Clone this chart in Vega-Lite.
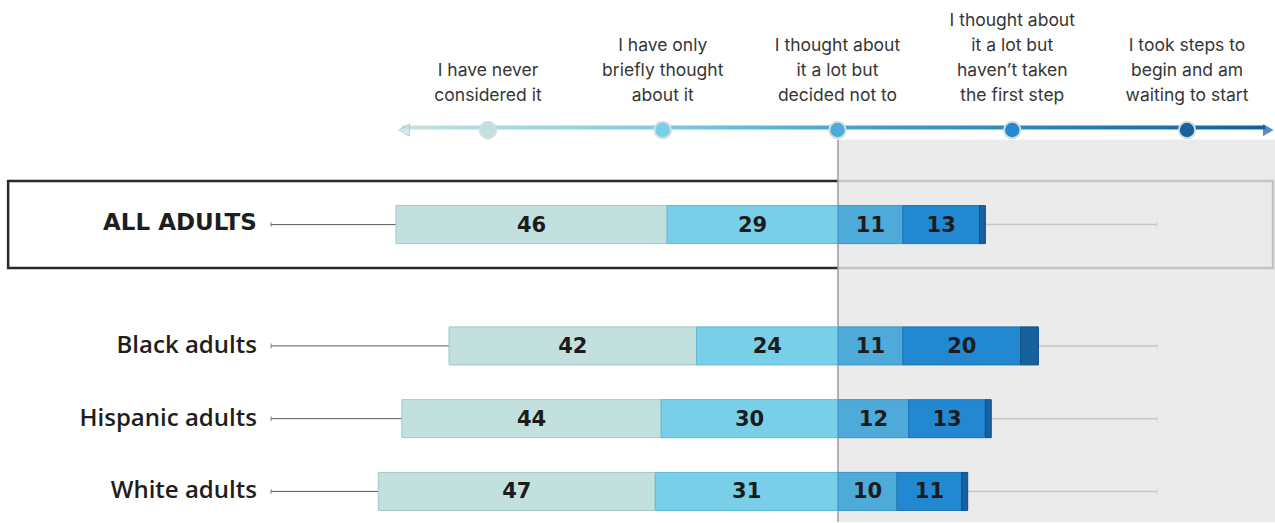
{
  "$schema": "https://vega.github.io/schema/vega-lite/v6.json",
  "width": 1275,
  "height": 523,
  "autosize": {"type": "fit", "contains": "padding"},
  "padding": 0,
  "background": "white",
  "config": {"view": {"stroke": null}},
  "datasets": {
    "shares": [
      {"group": "ALL ADULTS", "stage": "never", "pct": 46},
      {"group": "ALL ADULTS", "stage": "briefly", "pct": 29},
      {"group": "ALL ADULTS", "stage": "decided", "pct": 11},
      {"group": "ALL ADULTS", "stage": "notyet", "pct": 13},
      {"group": "ALL ADULTS", "stage": "steps", "pct": 1},
      {"group": "Black adults", "stage": "never", "pct": 42},
      {"group": "Black adults", "stage": "briefly", "pct": 24},
      {"group": "Black adults", "stage": "decided", "pct": 11},
      {"group": "Black adults", "stage": "notyet", "pct": 20},
      {"group": "Black adults", "stage": "steps", "pct": 3},
      {"group": "Hispanic adults", "stage": "never", "pct": 44},
      {"group": "Hispanic adults", "stage": "briefly", "pct": 30},
      {"group": "Hispanic adults", "stage": "decided", "pct": 12},
      {"group": "Hispanic adults", "stage": "notyet", "pct": 13},
      {"group": "Hispanic adults", "stage": "steps", "pct": 1},
      {"group": "White adults", "stage": "never", "pct": 47},
      {"group": "White adults", "stage": "briefly", "pct": 31},
      {"group": "White adults", "stage": "decided", "pct": 10},
      {"group": "White adults", "stage": "notyet", "pct": 11},
      {"group": "White adults", "stage": "steps", "pct": 1}
    ],
    "stages": [
      {"stage": "never", "label": "I have never\nconsidered it"},
      {"stage": "briefly", "label": "I have only\nbriefly thought\nabout it"},
      {"stage": "decided", "label": "I thought about\nit a lot but\ndecided not to"},
      {"stage": "notyet", "label": "I thought about\nit a lot but\nhaven’t taken\nthe first step"},
      {"stage": "steps", "label": "I took steps to\nbegin and am\nwaiting to start"}
    ]
  },
  "layer": [
    {
      "data": {"values": [{}]},
      "layer": [
        {
          "mark": {"type": "bar", "fill": "white", "stroke": "#262b33", "strokeWidth": 2.5, "height": 87},
          "encoding": {
            "x": {"datum": -140.8, "type": "quantitative", "scale": {"domain": [-142.18, 74.14], "nice": false, "zero": false}, "axis": null},
            "x2": {"datum": 73.8},
            "y": {"datum": "ALL ADULTS", "type": "nominal", "axis": null}
          }
        },
        {
          "mark": {"type": "rect", "fill": "#e6e6e6", "opacity": 0.82},
          "encoding": {
            "x": {"datum": 0, "type": "quantitative", "scale": {"domain": [-142.18, 74.14], "nice": false, "zero": false}, "axis": null},
            "x2": {"datum": 74.14},
            "y": {"datum": "hdr", "type": "nominal", "bandPosition": 1, "axis": null},
            "y2": {"value": {"expr": "height"}}
          }
        },
        {
          "mark": {"type": "rule", "color": "#9b9b9b", "strokeWidth": 1.5},
          "encoding": {
            "x": {"datum": 0, "type": "quantitative", "scale": {"domain": [-142.18, 74.14], "nice": false, "zero": false}, "axis": null},
            "y": {"datum": "hdr", "type": "nominal", "bandPosition": 1, "axis": null},
            "y2": {"value": {"expr": "height"}}
          }
        },
        {
          "mark": {
            "type": "bar",
            "height": 4,
            "fill": {
              "gradient": "linear", "x1": 0, "x2": 1, "y1": 0, "y2": 0,
              "stops": [
                {"offset": 0, "color": "#c3e2df"},
                {"offset": 0.3, "color": "#7fcbe0"},
                {"offset": 0.55, "color": "#3a9fd3"},
                {"offset": 1, "color": "#145fa1"}
              ]
            }
          },
          "encoding": {
            "x": {"datum": -74, "type": "quantitative", "scale": {"domain": [-142.18, 74.14], "nice": false, "zero": false}, "axis": null},
            "x2": {"datum": 72.5},
            "y": {"datum": "hdr", "type": "nominal", "bandPosition": 0.6, "axis": null}
          }
        },
        {
          "mark": {"type": "point", "shape": "triangle-left", "filled": true, "fill": "#c3e2df", "stroke": "#93c3c0", "strokeWidth": 1, "size": 150},
          "encoding": {
            "x": {"datum": -73.6, "type": "quantitative", "scale": {"domain": [-142.18, 74.14], "nice": false, "zero": false}, "axis": null},
            "y": {"datum": "hdr", "type": "nominal", "bandPosition": 0.6, "axis": null}
          }
        },
        {
          "mark": {"type": "point", "shape": "triangle-right", "filled": true, "fill": "#145fa1", "size": 150},
          "encoding": {
            "x": {"datum": 73.0, "type": "quantitative", "scale": {"domain": [-142.18, 74.14], "nice": false, "zero": false}, "axis": null},
            "y": {"datum": "hdr", "type": "nominal", "bandPosition": 0.6, "axis": null}
          }
        }
      ]
    },
    {
      "data": {"name": "shares"},
      "transform": [
        {"calculate": "datum.stage === 'never' || datum.stage === 'briefly' ? -datum.pct : datum.pct", "as": "v"},
        {"calculate": "indexof(['briefly','never','decided','notyet','steps'], datum.stage)", "as": "o"},
        {"stack": "v", "groupby": ["group"], "sort": [{"field": "o", "order": "ascending"}], "as": ["x0", "x1"]},
        {"calculate": "(datum.x0 + datum.x1) / 2", "as": "mid"},
        {"calculate": "min(datum.x0, datum.x1)", "as": "lo"},
        {"calculate": "max(datum.x0, datum.x1)", "as": "hi"}
      ],
      "encoding": {
        "y": {
          "field": "group",
          "type": "nominal",
          "axis": null,
          "scale": {
            "type": "band",
            "domain": ["p0", "p1", "p2", "p3", "hdr", "p5", "p6", "p7", "ALL ADULTS", "p9", "p10", "p11", "p12", "Black adults", "p14", "p15", "Hispanic adults", "p17", "p18", "White adults"],
            "paddingInner": 0,
            "paddingOuter": 0.76
          }
        }
      },
      "layer": [
        {
          "transform": [{"filter": "datum.stage === 'never'"}],
          "mark": {"type": "rule", "color": "#5a5a5a", "strokeWidth": 1},
          "encoding": {
            "x": {"field": "lo", "type": "quantitative", "scale": {"domain": [-142.18, 74.14], "nice": false, "zero": false}, "axis": null},
            "x2": {"datum": -96.2}
          }
        },
        {
          "transform": [{"filter": "datum.stage === 'never'"}],
          "mark": {"type": "tick", "color": "#5a5a5a", "thickness": 1, "size": 5, "orient": "vertical"},
          "encoding": {
            "x": {"datum": -96.2, "type": "quantitative", "scale": {"domain": [-142.18, 74.14], "nice": false, "zero": false}, "axis": null}
          }
        },
        {
          "transform": [{"filter": "datum.stage === 'steps'"}],
          "mark": {"type": "rule", "color": "#c6c6c6", "strokeWidth": 1.5},
          "encoding": {
            "x": {"field": "hi", "type": "quantitative", "scale": {"domain": [-142.18, 74.14], "nice": false, "zero": false}, "axis": null},
            "x2": {"datum": 54.1}
          }
        },
        {
          "transform": [{"filter": "datum.stage === 'steps'"}],
          "mark": {"type": "tick", "color": "#c6c6c6", "thickness": 1, "size": 6, "orient": "vertical"},
          "encoding": {
            "x": {"datum": 54.1, "type": "quantitative", "scale": {"domain": [-142.18, 74.14], "nice": false, "zero": false}, "axis": null}
          }
        },
        {
          "mark": {"type": "bar", "height": 38, "strokeWidth": 1},
          "encoding": {
            "x": {"field": "x0", "type": "quantitative", "scale": {"domain": [-142.18, 74.14], "nice": false, "zero": false}, "axis": null},
            "x2": {"field": "x1"},
            "fill": {
              "field": "stage", "type": "nominal", "legend": null,
              "scale": {"domain": ["never", "briefly", "decided", "notyet", "steps"], "range": ["#c2e1de", "#79cfe7", "#4eaad8", "#2188d1", "#17619f"]}
            },
            "stroke": {
              "field": "stage", "type": "nominal", "legend": null,
              "scale": {"domain": ["never", "briefly", "decided", "notyet", "steps"], "range": ["#a2c8c5", "#5cb8d3", "#3f93c2", "#1b73b6", "#124e86"]}
            }
          }
        },
        {
          "transform": [{"filter": "datum.stage !== 'steps'"}],
          "mark": {"type": "text", "font": "DejaVu Sans", "fontWeight": 700, "fontSize": 21, "color": "#1c1c1c", "baseline": "middle", "align": "center", "dy": 1},
          "encoding": {
            "x": {"field": "mid", "type": "quantitative", "scale": {"domain": [-142.18, 74.14], "nice": false, "zero": false}, "axis": null},
            "text": {"field": "pct", "type": "quantitative"}
          }
        },
        {
          "transform": [{"filter": "datum.stage === 'never' && datum.group !== 'ALL ADULTS'"}],
          "mark": {"type": "text", "font": "Open Sans", "fontWeight": 600, "fontSize": 24, "color": "#1e1e1e", "baseline": "middle", "align": "right"},
          "encoding": {
            "x": {"datum": -98.6, "type": "quantitative", "scale": {"domain": [-142.18, 74.14], "nice": false, "zero": false}, "axis": null},
            "text": {"field": "group", "type": "nominal"}
          }
        },
        {
          "transform": [{"filter": "datum.stage === 'never' && datum.group === 'ALL ADULTS'"}],
          "mark": {"type": "text", "font": "DejaVu Sans", "fontWeight": 700, "fontSize": 23, "color": "#1e1e1e", "baseline": "middle", "align": "right", "dy": -2},
          "encoding": {
            "x": {"datum": -98.6, "type": "quantitative", "scale": {"domain": [-142.18, 74.14], "nice": false, "zero": false}, "axis": null},
            "text": {"field": "group", "type": "nominal"}
          }
        }
      ]
    },
    {
      "data": {"name": "stages"},
      "mark": {"type": "point", "filled": true, "size": 270, "stroke": "#d3dde0", "strokeWidth": 2, "opacity": 1},
      "encoding": {
        "x": {
          "field": "stage", "type": "nominal", "axis": null,
          "scale": {"type": "point", "domain": ["pad1", "pad2", "never", "briefly", "decided", "notyet", "steps"], "padding": 0.648, "align": 0.6115}
        },
        "y": {"datum": "hdr", "type": "nominal", "bandPosition": 0.6, "axis": null},
        "fill": {"field": "stage", "type": "nominal", "legend": null}
      }
    },
    {
      "data": {"name": "stages"},
      "transform": [{"filter": "length(split(datum.label, '\\n')) == 4"}],
      "mark": {"type": "text", "font": "Inter", "fontSize": 17.5, "fontWeight": 400, "color": "#363636", "align": "center", "baseline": "alphabetic", "lineBreak": "\n", "lineHeight": 25, "dy": -104},
      "encoding": {
        "x": {
          "field": "stage", "type": "nominal", "axis": null,
          "scale": {"type": "point", "domain": ["pad1", "pad2", "never", "briefly", "decided", "notyet", "steps"], "padding": 0.648, "align": 0.6115}
        },
        "y": {"datum": "hdr", "type": "nominal", "bandPosition": 0.6, "axis": null},
        "text": {"field": "label", "type": "nominal"}
      }
    },
    {
      "data": {"name": "stages"},
      "transform": [{"filter": "length(split(datum.label, '\\n')) == 3"}],
      "mark": {"type": "text", "font": "Inter", "fontSize": 17.5, "fontWeight": 400, "color": "#363636", "align": "center", "baseline": "alphabetic", "lineBreak": "\n", "lineHeight": 25, "dy": -79},
      "encoding": {
        "x": {
          "field": "stage", "type": "nominal", "axis": null,
          "scale": {"type": "point", "domain": ["pad1", "pad2", "never", "briefly", "decided", "notyet", "steps"], "padding": 0.648, "align": 0.6115}
        },
        "y": {"datum": "hdr", "type": "nominal", "bandPosition": 0.6, "axis": null},
        "text": {"field": "label", "type": "nominal"}
      }
    },
    {
      "data": {"name": "stages"},
      "transform": [{"filter": "length(split(datum.label, '\\n')) == 2"}],
      "mark": {"type": "text", "font": "Inter", "fontSize": 17.5, "fontWeight": 400, "color": "#363636", "align": "center", "baseline": "alphabetic", "lineBreak": "\n", "lineHeight": 25, "dy": -54},
      "encoding": {
        "x": {
          "field": "stage", "type": "nominal", "axis": null,
          "scale": {"type": "point", "domain": ["pad1", "pad2", "never", "briefly", "decided", "notyet", "steps"], "padding": 0.648, "align": 0.6115}
        },
        "y": {"datum": "hdr", "type": "nominal", "bandPosition": 0.6, "axis": null},
        "text": {"field": "label", "type": "nominal"}
      }
    }
  ],
  "resolve": {"scale": {"x": "independent"}}
}
